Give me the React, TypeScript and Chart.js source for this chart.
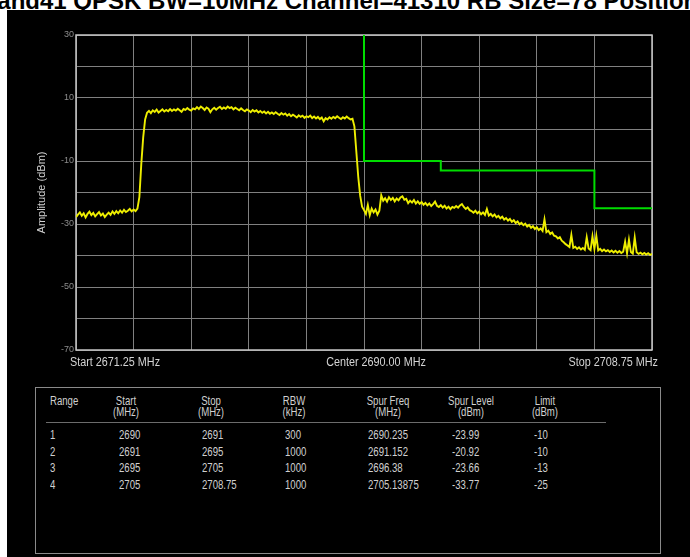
import React, { useEffect, useRef } from "react";
import { Chart, registerables } from "chart.js";

Chart.register(...registerables);

const NARROW = "'Liberation Sans Narrow', 'Arial Narrow', 'Liberation Sans', Arial, sans-serif";

const TITLE = "Band41 QPSK BW=10MHz Channel=41310 RB Size=78 Position";

// Sweep (analyzer trace) — 301 points evenly spaced from start to stop
const sweepStart = 2671.25;
const sweepStop = 2708.75;
const centerFreq = 2690.0;
const xDivisions = 10;

const traceLevels = [
  -27.8, -27.0, -26.3, -27.4, -26.6, -27.9, -26.8, -26.1, -27.2, -26.5,
  -27.6, -26.9, -26.2, -27.3, -26.7, -27.8, -27.0, -26.4, -27.1, -26.0,
  -26.8, -25.9, -26.6, -25.7, -26.4, -25.5, -26.2, -25.8, -25.2, -26.0,
  -25.4, -25.9, -25.1, -21.5, -11.0, -2.5, 3.2, 5.3, 5.9, 5.2,
  6.1, 5.6, 6.3, 5.4, 5.9, 6.4, 5.7, 6.2, 5.8, 6.5,
  5.9, 6.4, 6.0, 6.6, 6.1, 5.6, 6.5, 6.2, 6.8, 6.3,
  6.0, 6.7, 6.4, 7.1, 6.5, 7.3, 6.8, 6.2, 7.0, 6.6,
  5.5, 6.4, 6.9, 6.3, 6.8, 7.2, 6.5, 7.0, 6.6, 7.3,
  6.8, 7.1, 6.4, 6.9, 6.5, 6.1, 6.7, 6.2, 5.8, 6.4,
  6.0, 5.5, 6.2, 5.7, 6.1, 5.4, 5.9, 5.3, 5.7, 5.1,
  5.6, 5.0, 5.4, 4.9, 5.5, 5.0, 4.6, 5.2, 4.7, 5.1,
  4.4, 4.9, 4.2, 4.7, 4.3, 3.8, 4.5, 4.0, 4.4, 3.7,
  4.2, 3.9, 4.4, 3.6, 4.1, 3.5, 4.0, 3.3, 3.8, 2.6,
  3.6, 3.2, 3.9, 3.4, 4.0, 3.6, 4.2, 3.7, 3.3, 3.9,
  3.5, 4.1, 3.6, 3.2, 3.4, 1.0, -7.0, -15.0, -21.0, -24.5,
  -25.6, -26.8, -23.99, -27.2, -25.1, -26.3, -25.4, -27.0, -25.8, -20.92,
  -22.6, -21.8, -22.9, -21.5, -22.4, -21.7, -22.8, -21.9, -22.5, -21.6,
  -21.2, -22.3, -22.0, -23.4, -22.6, -23.2, -22.4, -23.5, -22.8, -23.6,
  -23.0, -23.9, -23.3, -24.1, -23.5, -24.3, -23.7, -22.9, -24.2, -24.6,
  -24.0, -24.8, -24.2, -25.1, -24.5, -25.3, -24.6, -24.9, -24.3, -24.8,
  -24.1, -23.66, -24.6, -25.2, -24.7, -25.6, -25.9, -26.4, -25.8, -26.6,
  -26.1, -26.9, -26.3, -27.1, -25.2, -27.3, -26.8, -27.6, -27.0, -27.9,
  -27.4, -28.2, -27.7, -28.6, -28.1, -28.9, -28.4, -29.3, -28.8, -29.7,
  -29.2, -30.1, -29.6, -30.4, -29.9, -30.8, -30.3, -31.2, -30.7, -31.6,
  -31.0, -31.9, -31.4, -32.2, -28.5, -32.6, -32.1, -33.2, -32.7, -33.7,
  -33.9, -34.6, -34.2, -35.3, -35.8, -36.4, -36.8, -37.3, -33.5, -37.6,
  -37.2, -37.9, -37.4, -38.1, -37.6, -38.2, -34.2, -37.8, -38.3, -33.9,
  -37.9, -33.77, -38.4, -37.9, -38.6, -38.1, -38.7, -38.3, -38.9, -38.4,
  -39.0, -38.5, -39.1, -38.6, -39.2, -38.8, -35.6, -39.3, -35.0, -38.9,
  -39.4, -34.3, -39.0, -39.5, -39.1, -39.6, -39.2, -39.7, -39.3, -39.8,
  -39.5,
];

const xEdgeLabels = ["Start 2671.25 MHz", "Center 2690.00 MHz", "Stop 2708.75 MHz"];

const yMin = -70;
const yMax = 30;
const yLabelValues = [30, 10, -10, -30, -50, -70];
const yTitle = "Amplitude (dBm)";

// Table
const tableHeadTop = ["Range", "Start", "Stop", "RBW", "Spur Freq", "Spur Level", "Limit"];
const tableHeadBottom = ["", "(MHz)", "(MHz)", "(kHz)", "(MHz)", "(dBm)", "(dBm)"];
const rangeIds = [1, 2, 3, 4];
const rangeStart = [2690, 2691, 2695, 2705];
const rangeStop = [2691, 2695, 2705, 2708.75];
const rangeRbw = [300, 1000, 1000, 1000];
const spurFreq = [2690.235, 2691.152, 2696.38, 2705.13875];
const spurLevel = [-23.99, -20.92, -23.66, -33.77];
const rangeLimit = [-10, -10, -13, -25];

// column geometry inside the table box (header centre, value left)
const colHeadCenter = [27, 90, 175, 258, 352, 435, 509];
const colValueLeft = [14, 83, 166, 249, 332, 416, 498];
const rowCenters = [47, 64, 80, 97];

const framePlugin = {
  id: "frame",
  beforeDatasetsDraw(chart: any) {
    const { ctx, chartArea } = chart;
    const { left, top, right, bottom } = chartArea;
    ctx.save();
    ctx.strokeStyle = "#c6c6c6";
    ctx.lineWidth = 1.5;
    ctx.strokeRect(left, top, right - left, bottom - top);
    ctx.restore();
  },
  afterDraw(chart: any) {
    const { ctx, chartArea } = chart;
    const xs = chart.scales.x;
    const squeeze = 0.9;
    const y = chartArea.bottom + 13;
    const put = (text: string, x: number, align: string) => {
      ctx.save();
      ctx.fillStyle = "#d4d4d4";
      ctx.font = `12px ${NARROW}`;
      ctx.textBaseline = "middle";
      ctx.textAlign = align;
      ctx.translate(x, y);
      ctx.scale(squeeze, 1);
      ctx.fillText(text, 0, 0);
      ctx.restore();
    };
    put(xEdgeLabels[0], chartArea.left - 6, "left");
    put(xEdgeLabels[1], xs.getPixelForValue(centerFreq) + 12, "center");
    put(xEdgeLabels[2], chartArea.right + 6, "right");
  },
};

function SpectrumChart() {
  const ref = useRef<HTMLCanvasElement>(null);
  useEffect(() => {
    const step = (sweepStop - sweepStart) / (traceLevels.length - 1);
    const traceData = traceLevels.map((v, i) => ({ x: sweepStart + i * step, y: v }));
    const limitData = [{ x: rangeStart[0], y: yMax }];
    rangeStart.forEach((s, i) => {
      limitData.push({ x: s, y: rangeLimit[i] });
      limitData.push({ x: rangeStop[i], y: rangeLimit[i] });
    });
    const divStep = (sweepStop - sweepStart) / xDivisions;
    const xGrid = Array.from({ length: xDivisions + 1 }, (_, k) => sweepStart + k * divStep);

    const chart = new Chart(ref.current!, {
      type: "line",
      data: {
        datasets: [
          {
            data: limitData,
            borderColor: "#00dc00",
            borderWidth: 2,
            pointRadius: 0,
            tension: 0,
            order: 2,
          },
          {
            data: traceData,
            borderColor: "#eeee00",
            borderWidth: 1.9,
            pointRadius: 0,
            tension: 0,
            order: 1,
          },
        ],
      },
      options: {
        responsive: false,
        animation: false,
        events: [],
        plugins: { legend: { display: false }, tooltip: { enabled: false } },
        layout: { padding: { top: 25, right: 38, left: 0, bottom: 0 } },
        scales: {
          x: {
            type: "linear",
            min: sweepStart,
            max: sweepStop,
            afterBuildTicks: (s: any) => {
              s.ticks = xGrid.map((v) => ({ value: v }));
            },
            afterFit: (s: any) => {
              s.height = 32;
            },
            ticks: { display: false },
            grid: { color: "#808080", lineWidth: 1, drawTicks: false },
            border: { display: false },
          },
          y: {
            min: yMin,
            max: yMax,
            afterFit: (s: any) => {
              s.width = 69;
            },
            ticks: {
              stepSize: 10,
              autoSkip: false,
              padding: 2,
              color: "#8c8c8c",
              font: { size: 9, family: NARROW },
              callback: (v: any) => (yLabelValues.includes(Number(v)) ? String(v) : ""),
            },
            grid: { color: "#808080", lineWidth: 1, drawTicks: false },
            border: { display: false },
            title: {
              display: true,
              text: yTitle,
              color: "#d0d0d0",
              font: { size: 11, family: NARROW },
              padding: { top: 28, bottom: 0 },
            },
          },
        },
      },
      plugins: [framePlugin],
    });
    return () => chart.destroy();
  }, []);
  return (
    <canvas
      ref={ref}
      width={683}
      height={372}
      style={{ position: "absolute", left: 0, top: 0, width: 683, height: 372 }}
    />
  );
}

function SpurTable() {
  const squeeze = "scaleX(0.8)";
  const textStyle: React.CSSProperties = {
    position: "absolute",
    fontFamily: NARROW,
    fontSize: 12,
    lineHeight: "12px",
    color: "#d0d0d0",
    whiteSpace: "nowrap",
  };
  const rows = rangeIds.map((id, i) => [id, rangeStart[i], rangeStop[i], rangeRbw[i], spurFreq[i], spurLevel[i], rangeLimit[i]]);
  return (
    <div
      style={{
        position: "absolute",
        left: 28,
        top: 377,
        width: 624,
        height: 165,
        border: "1px solid #8a8a8a",
      }}
    >
      {tableHeadTop.map((h, c) => (
        <div
          key={"h1" + c}
          style={{
            ...textStyle,
            left: c === 0 ? colValueLeft[0] : colHeadCenter[c] - 40,
            width: c === 0 ? undefined : 80,
            textAlign: c === 0 ? "left" : "center",
            top: 13 - 6,
            transform: squeeze,
            transformOrigin: c === 0 ? "left center" : "center center",
          }}
        >
          {h}
        </div>
      ))}
      {tableHeadBottom.map((h, c) => (
        <div
          key={"h2" + c}
          style={{
            ...textStyle,
            left: colHeadCenter[c] - 40,
            width: 80,
            textAlign: "center",
            top: 24 - 6,
            transform: squeeze,
            transformOrigin: "center center",
          }}
        >
          {h}
        </div>
      ))}
      <div style={{ position: "absolute", left: 10, top: 34, width: 560, height: 1, background: "#6c6c6c" }} />
      {rows.map((r, ri) =>
        r.map((v, c) => (
          <div
            key={ri + "-" + c}
            style={{
              ...textStyle,
              left: colValueLeft[c],
              top: rowCenters[ri] - 6,
              transform: squeeze,
              transformOrigin: "left center",
            }}
          >
            {String(v)}
          </div>
        ))
      )}
    </div>
  );
}

export default function App() {
  return (
    <div
      style={{
        position: "fixed",
        left: 0,
        top: 0,
        width: 690,
        height: 557,
        overflow: "hidden",
        background: "#ffffff",
      }}
    >
      <div
        style={{
          position: "absolute",
          left: -20,
          top: -11,
          fontFamily: "'Liberation Sans', Arial, sans-serif",
          fontWeight: "bold",
          fontSize: 24,
          lineHeight: "24px",
          color: "#000",
          whiteSpace: "nowrap",
        }}
      >
        {TITLE}
      </div>
      <div
        style={{
          position: "absolute",
          left: 7,
          top: 10,
          width: 683,
          height: 547,
          background: "#000000",
        }}
      >
        <SpectrumChart />
        <SpurTable />
      </div>
    </div>
  );
}
